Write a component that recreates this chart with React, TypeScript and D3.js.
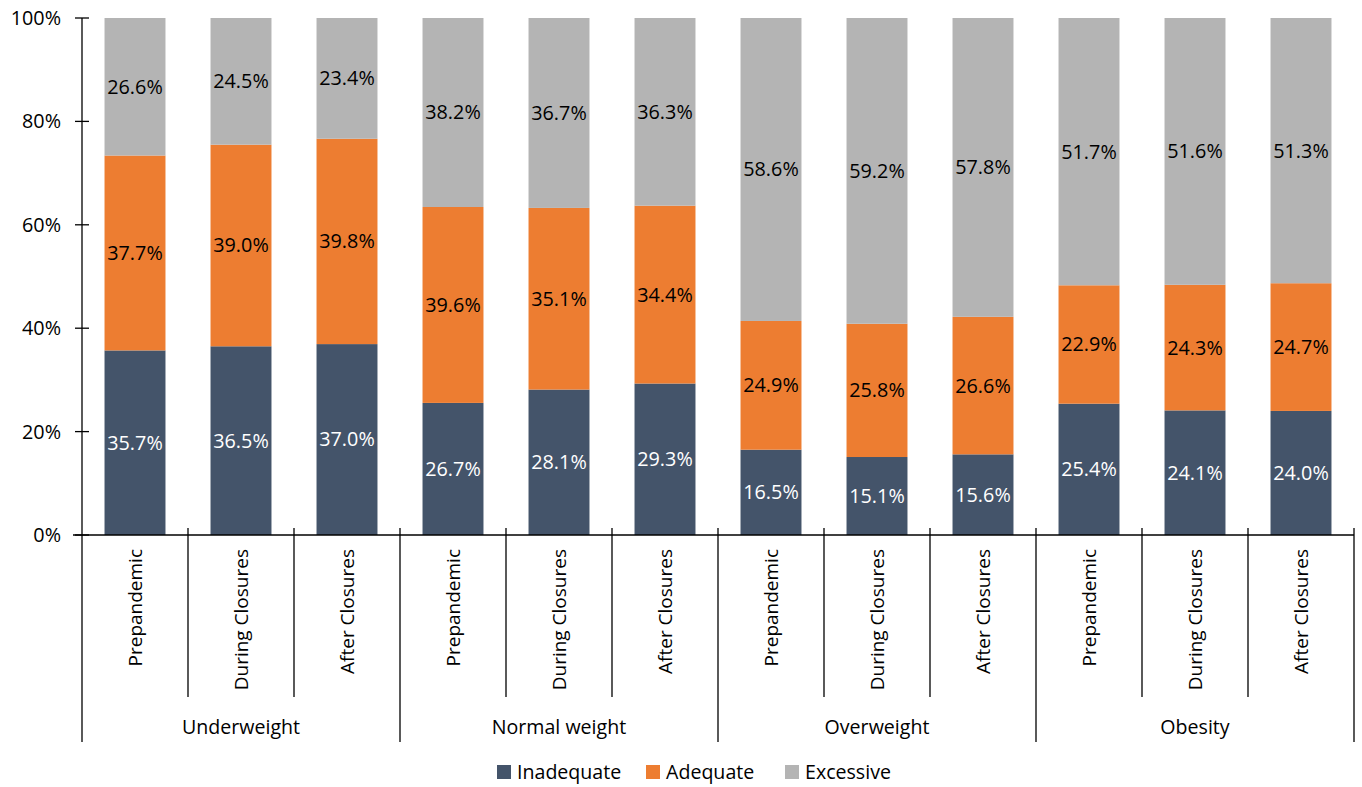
import React, { useRef, useEffect } from "react";
import * as d3 from "d3";

const groups = ["Underweight", "Normal weight", "Overweight", "Obesity"];
const periods = ["Prepandemic", "During Closures", "After Closures"];
const seriesNames = ["Inadequate", "Adequate", "Excessive"];

// values per bar, in group order then period order
const inadequate = [35.7, 36.5, 37.0, 26.7, 28.1, 29.3, 16.5, 15.1, 15.6, 25.4, 24.1, 24.0];
const adequate = [37.7, 39.0, 39.8, 39.6, 35.1, 34.4, 24.9, 25.8, 26.6, 22.9, 24.3, 24.7];
const excessive = [26.6, 24.5, 23.4, 38.2, 36.7, 36.3, 58.6, 59.2, 57.8, 51.7, 51.6, 51.3];

const yTicks = [0, 20, 40, 60, 80, 100];

const colors = ["#44546A", "#ED7D31", "#B4B4B4"];
const labelColors = ["#ffffff", "#000000", "#000000"];

const App = () => {
  const svgRef = useRef(null);

  useEffect(() => {
    const svg = d3.select(svgRef.current);
    svg.selectAll("*").remove();

    const W = 1362;
    const H = 787;
    const margin = { top: 18, right: 8, bottom: 252, left: 82 };
    const font = "'Open Sans', sans-serif";

    const keys = groups.flatMap((g) => periods.map((p) => `${g}|${p}`));
    const rows = keys.map((k, i) => {
      const total = inadequate[i] + adequate[i] + excessive[i];
      return {
        key: k,
        raw: [inadequate[i], adequate[i], excessive[i]],
        Inadequate: inadequate[i] / total,
        Adequate: adequate[i] / total,
        Excessive: excessive[i] / total,
      };
    });

    const xScale = d3
      .scaleBand()
      .domain(keys)
      .range([margin.left, W - margin.right])
      .paddingInner(0.425)
      .paddingOuter(0.2125);

    const yScale = d3
      .scaleLinear()
      .domain([0, 1])
      .range([H - margin.bottom, margin.top]);

    const y0 = yScale(0);
    const slot = (W - margin.right - margin.left) / keys.length;

    const stacked = d3.stack().keys(seriesNames)(rows as any);

    // bars
    stacked.forEach((layer, si) => {
      svg
        .append("g")
        .selectAll("rect")
        .data(layer)
        .enter()
        .append("rect")
        .attr("x", (d: any) => xScale(d.data.key))
        .attr("y", (d) => yScale(d[1]))
        .attr("width", xScale.bandwidth())
        .attr("height", (d) => yScale(d[0]) - yScale(d[1]))
        .attr("fill", colors[si]);

      svg
        .append("g")
        .selectAll("text")
        .data(layer)
        .enter()
        .append("text")
        .attr("x", (d: any) => xScale(d.data.key) + xScale.bandwidth() / 2)
        .attr("y", (d) => (yScale(d[0]) + yScale(d[1])) / 2)
        .attr("dy", "0.35em")
        .attr("text-anchor", "middle")
        .attr("font-family", font)
        .attr("font-size", 19.8)
        .attr("fill", labelColors[si])
        .text((d: any) => `${d.data.raw[si].toFixed(1)}%`);
    });

    // y axis
    const yAxis = svg.append("g");
    yAxis
      .append("line")
      .attr("x1", margin.left)
      .attr("x2", margin.left)
      .attr("y1", yScale(1))
      .attr("y2", y0)
      .attr("stroke", "#000")
      .attr("stroke-width", 1.3);
    yTicks.forEach((t) => {
      yAxis
        .append("line")
        .attr("x1", margin.left - 7)
        .attr("x2", margin.left + 7)
        .attr("y1", yScale(t / 100))
        .attr("y2", yScale(t / 100))
        .attr("stroke", "#000")
        .attr("stroke-width", 1.3);
      yAxis
        .append("text")
        .attr("x", margin.left - 21)
        .attr("y", yScale(t / 100))
        .attr("dy", "0.35em")
        .attr("text-anchor", "end")
        .attr("font-family", font)
        .attr("font-size", 19.8)
        .attr("fill", "#000")
        .text(`${t}%`);
    });

    // x axis with grouped categories
    const xAxis = svg.append("g");
    xAxis
      .append("line")
      .attr("x1", margin.left - 9)
      .attr("x2", W - margin.right)
      .attr("y1", y0)
      .attr("y2", y0)
      .attr("stroke", "#000")
      .attr("stroke-width", 1.3);

    for (let i = 0; i <= keys.length; i++) {
      const x = margin.left + i * slot;
      const isGroup = i % periods.length === 0;
      xAxis
        .append("line")
        .attr("x1", x)
        .attr("x2", x)
        .attr("y1", i === 0 ? y0 : y0 - 7)
        .attr("y2", isGroup ? 742 : 697)
        .attr("stroke", "#000")
        .attr("stroke-width", 1.3);
    }

    keys.forEach((k) => {
      const cx = xScale(k) + xScale.bandwidth() / 2;
      xAxis
        .append("text")
        .attr("transform", `translate(${cx},549) rotate(-90)`)
        .attr("dy", "0.35em")
        .attr("text-anchor", "end")
        .attr("font-family", font)
        .attr("font-size", 19)
        .attr("fill", "#000")
        .text(k.split("|")[1]);
    });

    groups.forEach((g, gi) => {
      const cx = margin.left + (gi + 0.5) * periods.length * slot;
      xAxis
        .append("text")
        .attr("x", cx)
        .attr("y", 727)
        .attr("dy", "0.35em")
        .attr("text-anchor", "middle")
        .attr("font-family", font)
        .attr("font-size", 19.6)
        .attr("fill", "#000")
        .text(g);
    });

    // legend
    const legendX = [497, 646, 785];
    const legend = svg.append("g");
    seriesNames.forEach((s, i) => {
      legend
        .append("rect")
        .attr("x", legendX[i])
        .attr("y", 765)
        .attr("width", 14)
        .attr("height", 14)
        .attr("fill", colors[i]);
      legend
        .append("text")
        .attr("x", legendX[i] + 20)
        .attr("y", 772)
        .attr("dy", "0.35em")
        .attr("font-family", font)
        .attr("font-size", 19.6)
        .attr("fill", "#000")
        .text(s);
    });
  }, []);

  return (
    <svg
      ref={svgRef}
      width={1362}
      height={787}
      style={{ position: "absolute", left: 0, top: 0, background: "#fff" }}
    ></svg>
  );
};

export default App;
